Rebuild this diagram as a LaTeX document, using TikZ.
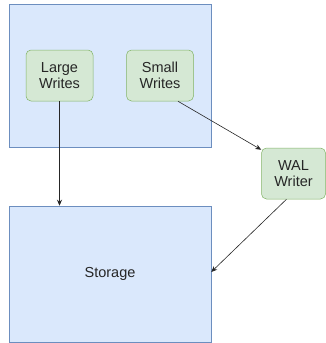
\documentclass[tikz,border=0pt]{standalone}
\usepackage{fontspec}
\setmainfont{Liberation Sans}
\usepackage{tikz}
\usetikzlibrary{positioning, arrows.meta, calc}
\definecolor{areafill}{HTML}{DAE8FC}
\definecolor{areadraw}{HTML}{6C8EBF}
\definecolor{procfill}{HTML}{D5E8D4}
\definecolor{procdraw}{HTML}{82B366}

\begin{document}
\begin{tikzpicture}[x=1pt, y=-1pt,
        every node/.style={font=\fontsize{14.5}{16}\selectfont, inner sep=0pt,
          text=black!85},
        area/.style={rectangle, draw=areadraw, fill=areafill, line width=0.5pt},
        proc/.style={rectangle, rounded corners=5pt, draw=procdraw,
          fill=procfill, line width=0.5pt, align=center,
          minimum width=67pt, minimum height=51pt},
        arr/.style={-{Stealth[length=6pt, width=5pt]}, line width=0.6pt, color=black!85}]
      \useasboundingbox (0,0) rectangle (326,343);
      \node[area, minimum width=202pt, minimum height=143pt] (app) at (110,75.5) {};
      \node[proc] (large) at (59.5,75.5) {Large\\Writes};
      \node[proc] (small) at (160,75.5) {Small\\Writes};
      \node[proc, minimum width=64pt] (wal) at (293.5,173.5) {WAL\\Writer};
      \node[area, minimum width=202pt, minimum height=136pt] (store) at (110,274) {Storage};
      \draw[arr] (large.south) -- (large.south |- store.north);
      \draw[arr] ([xshift=18pt]small.south) -- ([yshift=-2pt]wal.north west);
      \draw[arr] ([xshift=-7pt]wal.south) -- ([yshift=2pt]store.east);
    \end{tikzpicture}
\end{document}
